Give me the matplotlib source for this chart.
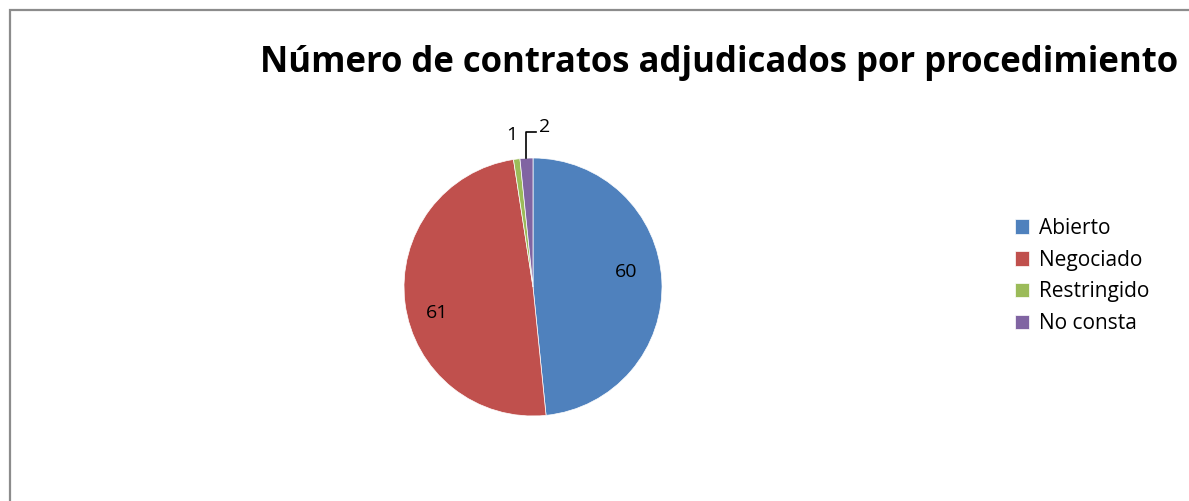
import matplotlib.pyplot as plt
import matplotlib.patches as mpatches
import numpy as np

categories = ['Abierto', 'Negociado', 'Restringido', 'No consta']
values = [60, 61, 1, 2]
colors = ['#4F81BD', '#C0504D', '#9BBB59', '#8064A2']

W, H = 1189, 501
fig = plt.figure(figsize=(W / 100, H / 100), dpi=100)
plt.rcParams['font.family'] = ['Open Sans', 'DejaVu Sans']

# outer chart border (gray), clipped by the image edges on the right and bottom
fig.patches.append(mpatches.Rectangle((10 / W, -0.1), 1.2, 0.1 + 491 / H,
                                      transform=fig.transFigure, fill=False,
                                      edgecolor='#8c8c8c', lw=1.6))

fig.text(719 / W, 1 - 63 / H, 'Número de contratos adjudicados por procedimiento',
         ha='center', va='center', fontsize=25, fontweight='bold')

cx, cy, r = 533, 287, 129
ax = fig.add_axes([(cx - r) / W, (H - cy - r) / H, 2 * r / W, 2 * r / H])
wedges, _ = ax.pie(values, colors=colors, startangle=90, counterclock=False,
                   radius=1.0, wedgeprops=dict(linewidth=0.5, edgecolor='white'))
ax.set_xlim(-1, 1)
ax.set_ylim(-1, 1)
ax.set_aspect('equal')
ax.axis('off')

# inside labels for the big slices (nudged like Excel's best-fit placement)
nudge = {0: (0.0, 0.08), 1: (-0.03, -0.11)}
for i, (w, v) in enumerate(zip(wedges, values)):
    mid = np.deg2rad((w.theta1 + w.theta2) / 2)
    if v > 10:
        dx, dy = nudge[i]
        ax.text(0.72 * np.cos(mid) + dx, 0.72 * np.sin(mid) + dy, str(v),
                ha='center', va='center', fontsize=14)

# small slices labelled outside
w_r, w_n = wedges[2], wedges[3]
mid_n = np.deg2rad((w_n.theta1 + w_n.theta2) / 2)
x0 = np.cos(mid_n)
ax.plot([x0, x0, x0 + 0.075], [np.sin(mid_n), 1.2, 1.2], color='black', lw=1.2,
        clip_on=False)
ax.text(x0 + 0.1, 1.24, str(values[3]), ha='left', va='center', fontsize=14)
mid_r = np.deg2rad((w_r.theta1 + w_r.theta2) / 2)
ax.text(np.cos(mid_r) - 0.035, 1.18, str(values[2]), ha='center', va='center',
        fontsize=14)

fig.legend(wedges, categories, loc='upper left', bbox_to_anchor=(996 / W, 1 - 199 / H),
           frameon=False, fontsize=15, handlelength=0.7, handleheight=0.7,
           handletextpad=0.45, labelspacing=0.52)

plt.savefig('out.png', dpi=100)
